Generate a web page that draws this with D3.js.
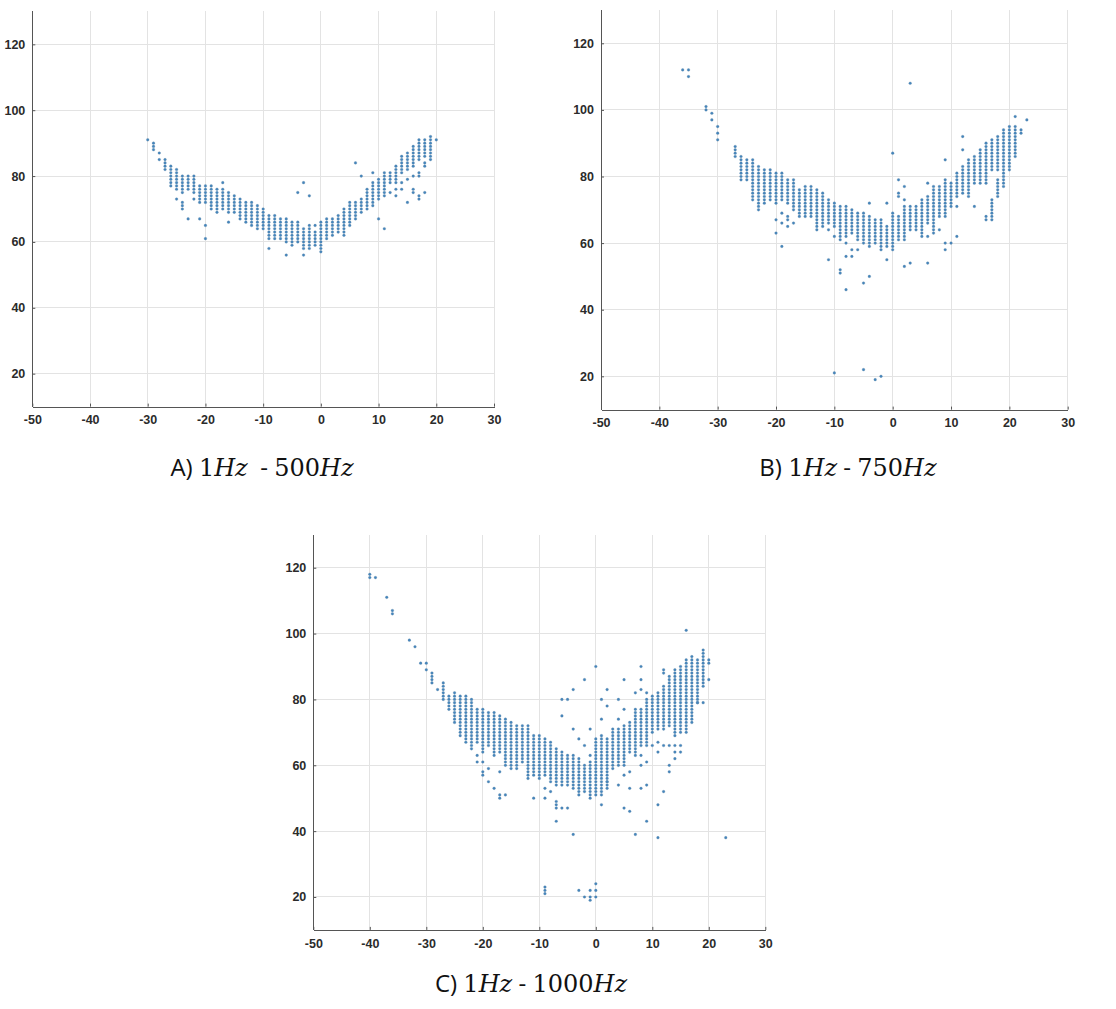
<!DOCTYPE html>
<html>
<head>
<meta charset="utf-8">
<script src="https://cdn.jsdelivr.net/npm/d3@7"></script>
<style>
  html, body { margin: 0; padding: 0; background: #fff; }
  svg { display: block; }
  .tick text { font-family: "Liberation Sans", Arial, sans-serif; font-weight: bold; font-size: 12.5px; fill: #2b2b2b; }
</style>
</head>
<body>
<svg id="chart" width="1116" height="1009"></svg>
<script>
// Shared axis ticks
const xTicks = [-50, -40, -30, -20, -10, 0, 10, 20, 30];
const yTicks = [20, 40, 60, 80, 100, 120];

// Each run [x, yFrom, yTo] is a column of readings at every integer y from yFrom to yTo.
// Each single [x, y] is an isolated reading.

// Panel A: 1Hz - 500Hz
const runsA = [
  [-29, 88, 90], [-27, 82, 85], [-26, 78, 83], [-25, 76, 82], [-24, 75, 80], [-24, 70, 72],
  [-23, 76, 80], [-22, 75, 80], [-21, 72, 77], [-20, 72, 77], [-19, 71, 77], [-18, 69, 76],
  [-17, 70, 76], [-16, 69, 75], [-15, 69, 74], [-14, 67, 73], [-13, 66, 72], [-12, 65, 72],
  [-11, 64, 71], [-10, 64, 70], [-9, 62, 68], [-8, 61, 68], [-7, 61, 67], [-6, 60, 67],
  [-5, 59, 66], [-4, 60, 66], [-3, 58, 64], [-2, 58, 65], [-1, 59, 63], [0, 57, 66],
  [1, 61, 67], [2, 62, 67], [3, 63, 68], [4, 62, 70], [5, 65, 72], [6, 67, 72], [7, 69, 73],
  [8, 70, 76], [9, 71, 78], [10, 73, 79], [11, 74, 81], [12, 78, 81], [13, 78, 83],
  [14, 81, 86], [15, 82, 87], [16, 83, 89], [17, 85, 91], [18, 86, 91], [19, 85, 92]
];
const singlesA = [
  [-30, 91], [-28, 87], [-28, 85], [-26, 77], [-25, 73], [-23, 67], [-22, 73], [-21, 67],
  [-20, 65], [-20, 61], [-19, 70], [-17, 78], [-16, 66], [-9, 61], [-9, 58], [-6, 56],
  [-4, 75], [-3, 78], [-3, 56], [-2, 74], [-1, 65], [6, 84], [7, 80], [9, 81], [10, 67],
  [11, 64], [12, 75], [13, 76], [13, 74], [14, 78], [14, 76], [15, 79], [15, 72],
  [16, 80], [16, 76], [16, 75], [17, 81], [17, 80], [17, 74], [17, 73], [18, 84], [18, 83],
  [18, 75], [20, 91]
];

// Panel B: 1Hz - 750Hz
const runsB = [
  [-27, 86, 89], [-26, 79, 86], [-25, 79, 85], [-24, 73, 85], [-23, 72, 83], [-22, 72, 82],
  [-21, 73, 82], [-20, 72, 81], [-19, 73, 81], [-18, 72, 79], [-17, 70, 79], [-16, 68, 76],
  [-15, 68, 77], [-14, 68, 77], [-13, 64, 76], [-12, 65, 75], [-11, 66, 73], [-10, 65, 72],
  [-9, 61, 71], [-8, 62, 71], [-7, 63, 70], [-6, 61, 69], [-5, 60, 69], [-4, 59, 68],
  [-3, 60, 67], [-2, 58, 67], [-1, 59, 65], [0, 58, 69], [1, 61, 68], [2, 61, 71],
  [3, 64, 71], [4, 64, 71], [5, 62, 73], [6, 66, 74], [7, 64, 77], [8, 68, 77], [9, 68, 79],
  [10, 71, 78], [11, 74, 81], [12, 75, 83], [13, 74, 85], [14, 78, 86], [15, 78, 88],
  [16, 78, 90], [17, 82, 91], [17, 67, 73], [18, 82, 92], [18, 74, 79], [19, 77, 94],
  [20, 82, 95], [21, 86, 95], [22, 93, 94]
];
const singlesB = [
  [-36, 112], [-35, 112], [-35, 110], [-32, 101], [-32, 100], [-31, 99], [-31, 97],
  [-30, 95], [-30, 93], [-30, 91], [-23, 71], [-23, 70], [-20, 67], [-20, 63], [-19, 69],
  [-19, 66], [-19, 59], [-18, 68], [-18, 67], [-18, 65], [-17, 66], [-11, 64], [-11, 55],
  [-10, 62], [-10, 21], [-9, 52], [-9, 51], [-8, 60], [-8, 56], [-8, 46], [-7, 58], [-7, 56],
  [-6, 58], [-5, 48], [-5, 22], [-4, 72], [-4, 50], [-3, 19], [-2, 20], [-1, 72], [-1, 55],
  [0, 87], [1, 79], [1, 75], [1, 74], [2, 77], [2, 73], [2, 53], [3, 108], [3, 54],
  [6, 78], [6, 62], [6, 54], [7, 63], [8, 64], [9, 85], [9, 60], [9, 58], [10, 60],
  [11, 71], [11, 62], [12, 92], [12, 88], [14, 71], [16, 68], [16, 67], [21, 98], [23, 97]
];

// Panel C: 1Hz - 1000Hz
const runsC = [
  [-29, 85, 88], [-27, 80, 85], [-26, 77, 81], [-25, 73, 82], [-24, 69, 81], [-23, 67, 81],
  [-22, 65, 80], [-21, 67, 77], [-20, 64, 77], [-19, 66, 76], [-18, 63, 76], [-17, 64, 75],
  [-16, 60, 74], [-15, 59, 73], [-14, 59, 72], [-13, 61, 72], [-12, 56, 72], [-11, 57, 69],
  [-10, 56, 69], [-9, 57, 68], [-9, 21, 23], [-8, 55, 67], [-7, 54, 65], [-7, 47, 49],
  [-6, 54, 64], [-5, 54, 63], [-4, 53, 63], [-3, 51, 62], [-2, 52, 60], [-1, 50, 61],
  [0, 51, 68], [1, 51, 69], [2, 53, 68], [3, 59, 71], [4, 60, 71], [5, 60, 72], [6, 64, 73],
  [7, 63, 77], [8, 66, 77], [9, 66, 80], [10, 70, 81], [11, 71, 82], [12, 71, 84],
  [13, 72, 87], [14, 69, 89], [15, 70, 90], [16, 70, 92], [17, 73, 93], [18, 79, 92],
  [19, 84, 95], [20, 91, 92]
];
const singlesC = [
  [-40, 118], [-40, 117], [-39, 117], [-37, 111], [-36, 107], [-36, 106], [-33, 98],
  [-32, 96], [-31, 91], [-30, 91], [-30, 89], [-28, 83], [-21, 63], [-21, 61], [-20, 61],
  [-20, 58], [-20, 57], [-19, 59], [-19, 55], [-18, 53], [-17, 58], [-17, 51], [-17, 50],
  [-16, 51], [-11, 50], [-9, 53], [-9, 50], [-8, 52], [-7, 43], [-6, 80], [-6, 75], [-6, 47],
  [-5, 80], [-5, 47], [-4, 83], [-4, 71], [-4, 39], [-3, 68], [-3, 22], [-2, 86], [-2, 66],
  [-2, 20], [-1, 71], [-1, 63], [-1, 22], [-1, 20], [-1, 19], [0, 90], [0, 24], [0, 22],
  [0, 20], [1, 80], [1, 74], [1, 48], [2, 83], [2, 78], [2, 55], [4, 80], [4, 74], [4, 54],
  [5, 86], [5, 77], [5, 57], [5, 47], [6, 58], [6, 53], [6, 46], [7, 82], [7, 39], [8, 90],
  [8, 86], [8, 83], [8, 63], [8, 60], [8, 53], [9, 82], [9, 61], [9, 54], [9, 43], [10, 66],
  [11, 67], [11, 64], [11, 48], [11, 38], [12, 89], [12, 88], [12, 66], [12, 52], [13, 66],
  [13, 60], [13, 58], [14, 66], [14, 64], [14, 62], [15, 66], [15, 64], [16, 101],
  [18, 79], [19, 79], [20, 86], [23, 38]
];

// Caption parts: [text, style] where style "sans" is the label prefix, "num" upright math digits, "it" math italic
const captionA = [["A) ", "sans"], ["1", "num"], ["Hz", "it"], ["  - ", "sans"], ["500", "num"], ["Hz", "it"]];
const captionB = [["B) ", "sans"], ["1", "num"], ["Hz", "it"], [" - ", "sans"], ["750", "num"], ["Hz", "it"]];
const captionC = [["C) ", "sans"], ["1", "num"], ["Hz", "it"], [" - ", "sans"], ["1000", "num"], ["Hz", "it"]];

const svg = d3.select("#chart");
svg.append("rect").attr("width", 1116).attr("height", 1009).attr("fill", "#fff");

const panels = [
  { runs: runsA, singles: singlesA, caption: captionA, px: [32.3, 494], py: [406.6, 11.4], cap: [262, 476] },
  { runs: runsB, singles: singlesB, caption: captionB, px: [601, 1067.7], py: [409.6, 10.0], cap: [848, 476] },
  { runs: runsC, singles: singlesC, caption: captionC, px: [313.3, 765.3], py: [929.9, 534.8], cap: [531, 992] }
];

function expand(runs, singles) {
  const pts = runs.flatMap(([xv, a, b]) => d3.range(a, b + 1).map(v => [xv, v]));
  return pts.concat(singles);
}

// plain hyphen-minus labels
const plain = d => String(d);

panels.forEach(p => {
  const g = svg.append("g");
  const x = d3.scaleLinear().domain([-50, 30]).range(p.px);
  const y = d3.scaleLinear().domain([10, 130]).range(p.py);

  // grid
  const grid = g.append("g").attr("stroke", "#e3e3e3").attr("stroke-width", 1).attr("shape-rendering", "crispEdges");
  grid.selectAll(".vg").data(xTicks.slice(1)).join("line")
    .attr("x1", d => x(d)).attr("x2", d => x(d))
    .attr("y1", y(130)).attr("y2", y(10));
  grid.selectAll(".hg").data(yTicks).join("line")
    .attr("x1", x(-50)).attr("x2", x(30))
    .attr("y1", d => y(d)).attr("y2", d => y(d));

  // axes
  const ax = g.append("g").attr("transform", `translate(0,${y(10)})`)
    .call(d3.axisBottom(x).tickValues(xTicks).tickFormat(plain).tickSize(-3).tickSizeOuter(0).tickPadding(9));
  const ay = g.append("g").attr("transform", `translate(${x(-50)},0)`)
    .call(d3.axisLeft(y).tickValues(yTicks).tickFormat(plain).tickSize(-3).tickSizeOuter(0).tickPadding(7));
  [ax, ay].forEach(a => {
    a.select(".domain").attr("stroke", "#555").attr("shape-rendering", "crispEdges");
    a.selectAll(".tick line").attr("stroke", "#555");
  });
  // vertical axis line runs the full height
  ay.select(".domain").attr("d", `M0,${y(130)}V${y(10)}`);

  // points
  g.append("g").selectAll("circle").data(expand(p.runs, p.singles)).join("circle")
    .attr("cx", d => x(d[0])).attr("cy", d => y(d[1]))
    .attr("r", 1.35).attr("fill", "#4385bd").attr("stroke", "#6a8aa5").attr("stroke-width", 0.3);

  // caption
  const t = svg.append("text").attr("x", p.cap[0]).attr("y", p.cap[1])
    .attr("text-anchor", "middle").attr("font-size", 24).attr("fill", "#111")
    .style("white-space", "pre").attr("xml:space", "preserve");
  p.caption.forEach(([s, k]) => {
    const ts = t.append("tspan").text(s);
    if (k === "sans") ts.attr("font-family", "'Open Sans', 'Liberation Sans', sans-serif");
    else if (k === "num") ts.attr("font-family", "'DejaVu Serif', 'Liberation Serif', serif");
    else ts.attr("font-family", "'DejaVu Serif', 'Liberation Serif', serif").attr("font-style", "italic");
  });
});
</script>
</body>
</html>
